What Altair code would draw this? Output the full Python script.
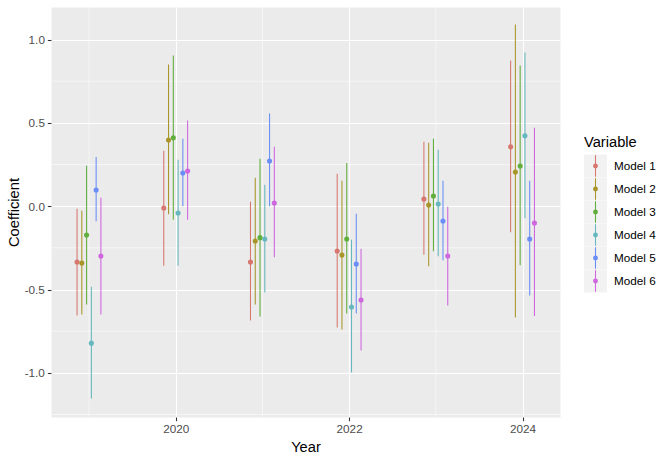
import altair as alt
import pandas as pd

years = [2019, 2020, 2021, 2022, 2023, 2024]
models = ["Model 1", "Model 2", "Model 3", "Model 4", "Model 5", "Model 6"]
colors = ["#D6766E", "#A8962A", "#60AE3C", "#66B8BE", "#6A8EF5", "#CE66DE"]

est_m1 = [-0.335, -0.011, -0.335, -0.269, 0.043, 0.356]
lo_m1 = [-0.656, -0.357, -0.686, -0.728, -0.291, -0.157]
hi_m1 = [-0.015, 0.333, 0.027, 0.195, 0.387, 0.874]

est_m2 = [-0.341, 0.397, -0.209, -0.293, 0.007, 0.205]
lo_m2 = [-0.650, -0.049, -0.590, -0.740, -0.361, -0.668]
hi_m2 = [-0.027, 0.850, 0.171, 0.153, 0.381, 1.090]

est_m3 = [-0.173, 0.410, -0.189, -0.197, 0.061, 0.241]
lo_m3 = [-0.590, -0.081, -0.662, -0.644, -0.271, -0.355]
hi_m3 = [0.243, 0.904, 0.285, 0.259, 0.405, 0.844]

est_m4 = [-0.822, -0.041, -0.197, -0.605, 0.013, 0.422]
lo_m4 = [-1.154, -0.357, -0.518, -0.998, -0.301, -0.073]
hi_m4 = [-0.483, 0.279, 0.129, -0.201, 0.339, 0.922]

est_m5 = [0.097, 0.199, 0.271, -0.347, -0.089, -0.197]
lo_m5 = [-0.091, -0.001, -0.001, -0.644, -0.325, -0.536]
hi_m5 = [0.295, 0.405, 0.556, -0.045, 0.153, 0.153]

est_m6 = [-0.299, 0.211, 0.019, -0.563, -0.299, -0.101]
lo_m6 = [-0.650, -0.081, -0.307, -0.866, -0.596, -0.659]
hi_m6 = [0.051, 0.514, 0.357, -0.255, -0.003, 0.471]

x_major = [2020, 2022, 2024]
x_minor = [2019, 2021, 2023]
y_major = [-1.0, -0.5, 0.0, 0.5, 1.0]
y_minor = [-1.25, -0.75, -0.25, 0.25, 0.75]

ests = [est_m1, est_m2, est_m3, est_m4, est_m5, est_m6]
los = [lo_m1, lo_m2, lo_m3, lo_m4, lo_m5, lo_m6]
his = [hi_m1, hi_m2, hi_m3, hi_m4, hi_m5, hi_m6]

rows = []
for i, m in enumerate(models):
    for j, yr in enumerate(years):
        rows.append({"Year": yr, "Model": m, "idx": i,
                     "est": ests[i][j], "lo": los[i][j], "hi": his[i][j]})
df = pd.DataFrame(rows)

FONT = "Liberation Sans"
color_scale = alt.Scale(domain=models, range=colors)
xscale = alt.Scale(domain=[2018.562, 2024.432], nice=False, zero=False)
yscale = alt.Scale(domain=[-1.265, 1.195], nice=False, zero=False)

x_axis = alt.Axis(values=x_major, format="d", title="Year", titlePadding=4,
                  grid=True)
y_axis = alt.Axis(values=y_major, title="Coefficient", titlePadding=3, grid=True,
                  labelExpr="(datum.value < 0 ? '-' : '') + format(abs(datum.value), '.1f')")

minor_x = alt.Chart(pd.DataFrame({"v": x_minor})).mark_rule(
    color="white", strokeWidth=0.55).encode(
    x=alt.X("v:Q", scale=xscale, axis=x_axis))
minor_y = alt.Chart(pd.DataFrame({"v": y_minor})).mark_rule(
    color="white", strokeWidth=0.55).encode(
    y=alt.Y("v:Q", scale=yscale, axis=y_axis))

base = alt.Chart(df).transform_calculate(
    xd="datum.Year + (datum.idx - 2.5) * 0.055")

bars = base.mark_rule(strokeWidth=1.07).encode(
    x=alt.X("xd:Q", scale=xscale, axis=x_axis),
    y=alt.Y("lo:Q", scale=yscale, axis=y_axis),
    y2="hi:Q",
    color=alt.Color("Model:N", scale=color_scale, legend=None))

pts = base.mark_point(filled=True, size=26, opacity=1).encode(
    x=alt.X("xd:Q", scale=xscale, axis=x_axis),
    y=alt.Y("est:Q", scale=yscale, axis=y_axis),
    color=alt.Color("Model:N", scale=color_scale, legend=None))

main = alt.layer(minor_x, minor_y, bars, pts).properties(
    width=509, height=410,
    view=alt.ViewBackground(fill="#EBEBEB", stroke="transparent"))

# legend panel
leg_df = pd.DataFrame({"Model": models, "rank": list(range(1, len(models) + 1))})
lscale = alt.Scale(domain=[-5.913, 11.913], nice=False, zero=False, reverse=True)
lbase = alt.Chart(leg_df).transform_calculate(
    r0="datum.rank - 0.5", r1="datum.rank + 0.5",
    l0="datum.rank - 0.47", l1="datum.rank + 0.47")

key_bg = lbase.mark_rect(color="#F2F2F2").encode(
    x=alt.value(0), x2=alt.value(23),
    y=alt.Y("r0:Q", scale=lscale, axis=None), y2="r1:Q")
key_line = lbase.mark_rule(strokeWidth=1.07).encode(
    x=alt.value(11.5),
    y=alt.Y("l0:Q", scale=lscale, axis=None), y2="l1:Q",
    color=alt.Color("Model:N", scale=color_scale, legend=None))
key_pt = lbase.mark_point(filled=True, size=24, opacity=1).encode(
    x=alt.value(11.5),
    y=alt.Y("rank:Q", scale=lscale, axis=None),
    color=alt.Color("Model:N", scale=color_scale, legend=None))
key_lab = lbase.mark_text(align="left", baseline="middle", fontSize=11.73,
                          font=FONT, color="black").encode(
    x=alt.value(30),
    y=alt.Y("rank:Q", scale=lscale, axis=None),
    text="Model:N")
leg_title = alt.Chart(pd.DataFrame({"t": ["Variable"]})).mark_text(
    align="left", baseline="alphabetic", fontSize=14.67, font=FONT,
    color="black").encode(x=alt.value(0), y=alt.value(140.3), text="t:N")

legend = alt.layer(key_bg, key_line, key_pt, key_lab, leg_title).properties(
    width=80, height=410,
    view=alt.ViewBackground(fill="white", stroke="transparent"))

chart = alt.hconcat(main, legend, spacing=22).resolve_scale(
    x="independent", y="independent", color="shared"
).properties(
    padding={"left": 5, "top": 6, "right": 0, "bottom": 0},
    background="white"
).configure_axis(
    domain=False,
    tickColor="#333333", tickWidth=1.07, tickSize=3.67,
    labelColor="#4D4D4D", labelFontSize=11.73, labelFont=FONT, labelPadding=2.93,
    titleColor="black", titleFontSize=14.67, titleFont=FONT, titleFontWeight="normal",
    gridColor="white", gridWidth=1.07
)

chart.save("out.html", embed_options={"renderer": "svg", "actions": False})
